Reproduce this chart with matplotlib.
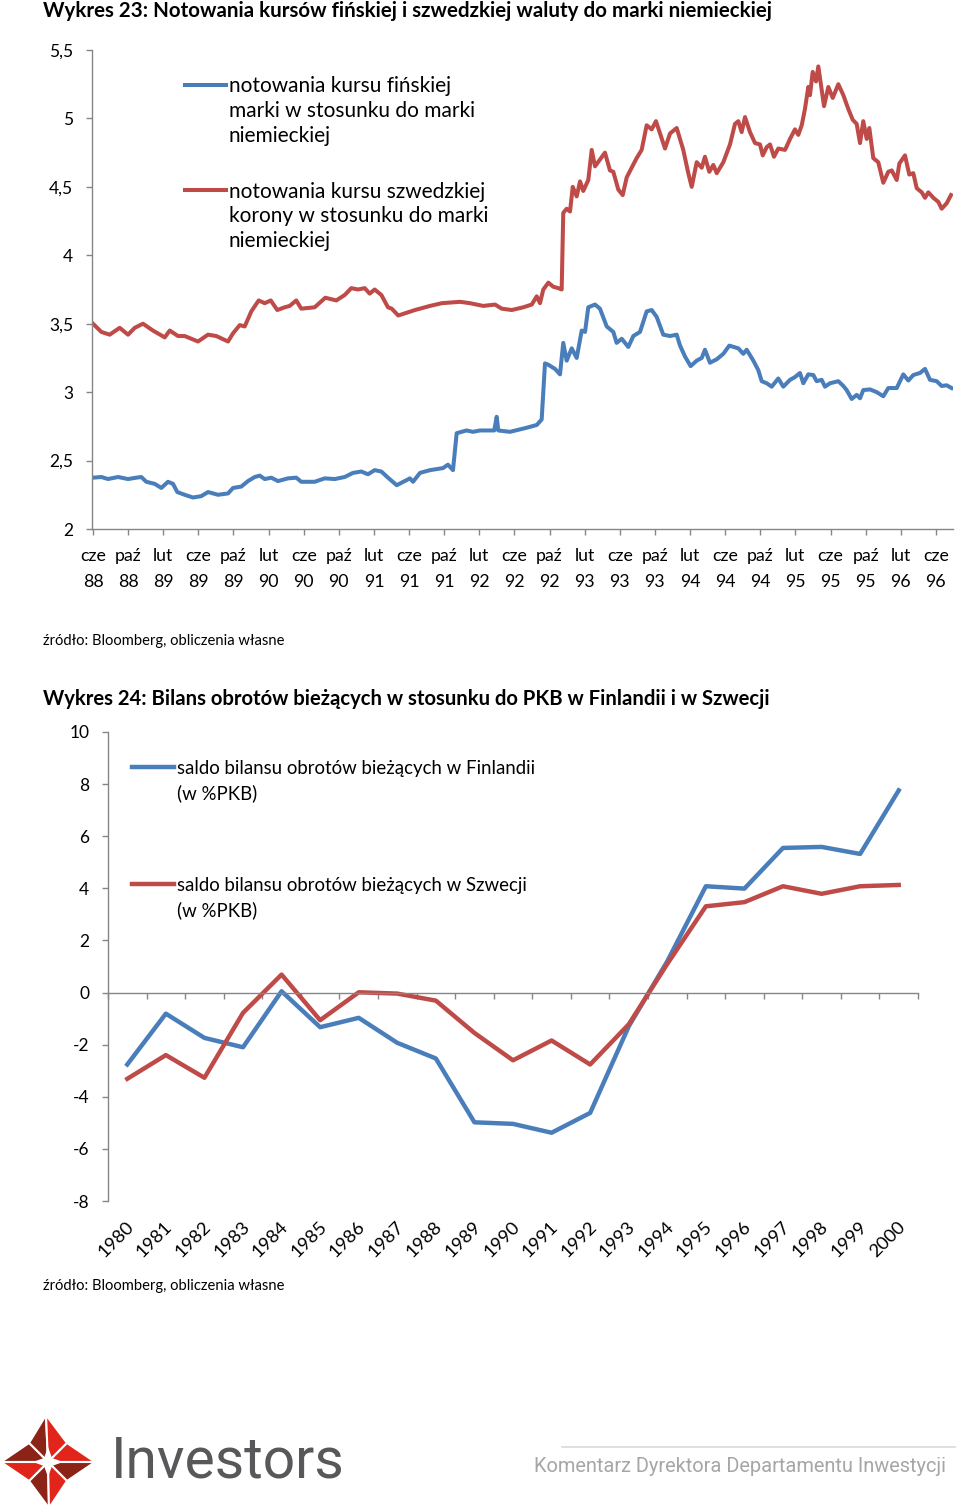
import matplotlib
matplotlib.use('Agg')
import matplotlib.pyplot as plt
from matplotlib.lines import Line2D
from matplotlib.patches import Polygon
import matplotlib.transforms as mtransforms

plt.rcParams['font.family'] = ['Lato', 'DejaVu Sans']

# ---------------- Chart 23 data (months since June 1988) ----------------
fi_months = [0.0, 0.95, 1.71, 2.85, 3.99, 4.93, 5.50, 6.07, 7.03, 7.78, 8.54, 9.11, 9.60, 10.44, 11.39,
             12.33, 13.10, 14.24, 15.38, 15.95, 16.89, 17.65, 18.42, 18.99, 19.56, 20.31, 21.07, 22.21,
             23.15, 23.72, 25.25, 26.39, 27.53, 28.67, 29.61, 30.56, 31.32, 32.08, 32.84, 33.60, 34.59,
             36.10, 36.45, 37.24, 38.38, 39.86, 40.43, 41.0, 41.42, 42.54, 43.28, 44.08, 45.70, 45.98, 46.16,
             47.49, 49.40, 50.54, 51.10, 51.48, 51.86, 52.62, 53.19, 53.56, 53.95, 54.52, 55.09, 55.66,
             56.04, 56.41, 57.18, 57.74, 58.51, 59.26, 59.64, 60.22, 60.97, 61.54, 62.30, 63.06, 63.63,
             64.20, 64.95, 65.72, 66.48, 66.86, 67.43, 68.07, 68.76, 69.33, 69.70, 70.27, 71.04, 71.79,
             72.47, 73.50, 74.07, 74.45, 75.21, 75.78, 76.16, 76.73, 77.30, 78.05, 78.62, 79.39, 79.95,
             80.52, 80.90, 81.47, 82.04, 82.42, 82.99, 83.37, 83.94, 84.89, 85.46, 85.84, 86.41, 86.98,
             87.36, 87.73, 88.50, 89.26, 90.01, 90.58, 91.54, 92.29, 92.86, 93.43, 94.19, 94.76, 95.33,
             96.09, 96.66, 97.23, 97.79]
fi_values = [2.375, 2.38, 2.365, 2.38, 2.365, 2.375, 2.38, 2.345, 2.33, 2.30, 2.345, 2.33, 2.27, 2.25, 2.23,
             2.24, 2.27, 2.25, 2.26, 2.30, 2.31, 2.35, 2.38, 2.39, 2.365, 2.375, 2.35, 2.37,
             2.375, 2.345, 2.345, 2.37, 2.365, 2.38, 2.41, 2.42, 2.40, 2.43, 2.42, 2.375, 2.32,
             2.37, 2.345, 2.41, 2.43, 2.445, 2.47, 2.43, 2.70, 2.72, 2.71, 2.72, 2.72, 2.82, 2.72,
             2.71, 2.74, 2.76, 2.80, 3.21, 3.20, 3.17, 3.13, 3.36, 3.23, 3.32, 3.25, 3.45,
             3.44, 3.62, 3.64, 3.61, 3.48, 3.44, 3.36, 3.39, 3.33, 3.41, 3.44, 3.59, 3.60,
             3.55, 3.42, 3.41, 3.42, 3.34, 3.26, 3.19, 3.23, 3.25, 3.31, 3.215, 3.24, 3.28,
             3.34, 3.32, 3.28, 3.31, 3.23, 3.16, 3.08, 3.065, 3.04, 3.10, 3.04, 3.09, 3.11,
             3.14, 3.065, 3.13, 3.125, 3.08, 3.09, 3.04, 3.065, 3.08, 3.045, 3.015, 2.95, 2.98,
             2.955, 3.015, 3.02, 3.00, 2.97, 3.03, 3.03, 3.13, 3.085, 3.125, 3.14, 3.17, 3.09,
             3.08, 3.045, 3.05, 3.03]

se_months = [0.0, 0.95, 1.9, 3.04, 3.99, 4.75, 5.69, 6.83, 8.17, 8.74, 9.68, 10.44, 11.96, 13.10, 14.04,
             15.38, 15.95, 16.71, 17.28, 18.03, 18.87, 19.56, 20.24, 20.99, 21.83, 22.40, 23.15, 23.72,
             25.25, 26.46, 27.71, 28.67, 29.42, 30.18, 30.95, 31.51, 32.08, 32.84, 33.60, 34.02, 34.77,
             35.73, 36.67, 38.38, 39.72, 41.80, 42.94, 44.45, 45.79, 46.55, 47.69, 49.01, 49.97, 50.54,
             50.91, 51.29, 51.86, 52.43, 53.0, 53.38, 53.56, 53.95, 54.33, 54.64, 55.09, 55.47, 55.84,
             56.41, 56.80, 57.18, 57.74, 58.31, 58.88, 59.26, 59.83, 60.33, 60.79, 61.36, 61.92, 62.49,
             63.06, 63.63, 64.12, 64.58, 65.15, 65.72, 66.48, 67.23, 67.80, 68.19, 68.76, 69.33, 69.70,
             70.19, 70.65, 71.04, 71.79, 72.55, 73.12, 73.50, 73.88, 74.26, 74.83, 75.40, 75.97, 76.28,
             76.73, 77.11, 77.56, 78.05, 78.82, 79.39, 79.95, 80.33, 80.72, 81.09, 81.47, 81.66, 81.97,
             82.35, 82.61, 82.88, 83.26, 83.75, 84.25, 84.89, 85.46, 86.02, 86.53, 86.98, 87.36, 87.73,
             88.12, 88.42, 88.87, 89.44, 90.01, 90.58, 90.97, 91.54, 91.84, 92.48, 92.97, 93.43, 93.82,
             94.39, 94.76, 95.14, 95.71, 96.28, 96.66, 97.23, 97.72]
se_values = [3.50, 3.44, 3.42, 3.47, 3.42, 3.47, 3.50, 3.45, 3.40, 3.45, 3.41, 3.41, 3.37, 3.42, 3.41,
             3.37, 3.43, 3.49, 3.48, 3.59, 3.67, 3.65, 3.67, 3.60, 3.62, 3.63, 3.67, 3.61,
             3.62, 3.69, 3.67, 3.71, 3.76, 3.75, 3.76, 3.72, 3.75, 3.71, 3.62, 3.61, 3.56,
             3.58, 3.60, 3.63, 3.65, 3.66, 3.65, 3.63, 3.64, 3.61, 3.60, 3.62, 3.64, 3.70,
             3.65, 3.75, 3.80, 3.77, 3.76, 3.75, 4.31, 4.34, 4.32, 4.50, 4.43, 4.54, 4.47,
             4.55, 4.77, 4.65, 4.70, 4.75, 4.62, 4.61, 4.48, 4.44, 4.57, 4.64, 4.71, 4.77,
             4.95, 4.92, 4.98, 4.89, 4.78, 4.89, 4.93, 4.77, 4.60, 4.50, 4.68, 4.64, 4.72,
             4.61, 4.66, 4.60, 4.68, 4.81, 4.96, 4.98, 4.90, 5.01, 4.90, 4.82, 4.81, 4.73,
             4.79, 4.81, 4.72, 4.78, 4.77, 4.85, 4.92, 4.88, 4.95, 5.07, 5.23, 5.17, 5.34,
             5.27, 5.38, 5.26, 5.09, 5.23, 5.15, 5.25, 5.17, 5.07, 4.99, 4.96, 4.82, 4.98,
             4.85, 4.93, 4.71, 4.68, 4.53, 4.61, 4.62, 4.55, 4.67, 4.73, 4.59, 4.60, 4.49,
             4.46, 4.42, 4.46, 4.42, 4.39, 4.34, 4.38, 4.44]

top_tick_months = [0, 4, 8, 12, 16, 20, 24, 28, 32, 36, 40, 44, 48, 52, 56, 60, 64, 68, 72, 76, 80, 84, 88, 92, 96]
top_tick_labels = ['cze\n88', 'paź\n88', 'lut\n89', 'cze\n89', 'paź\n89', 'lut\n90', 'cze\n90', 'paź\n90',
                   'lut\n91', 'cze\n91', 'paź\n91', 'lut\n92', 'cze\n92', 'paź\n92', 'lut\n93', 'cze\n93',
                   'paź\n93', 'lut\n94', 'cze\n94', 'paź\n94', 'lut\n95', 'cze\n95', 'paź\n95', 'lut\n96',
                   'cze\n96']
top_yticks = [2, 2.5, 3, 3.5, 4, 4.5, 5, 5.5]
top_ytick_labels = ['2', '2,5', '3', '3,5', '4', '4,5', '5', '5,5']
top_legend = ['notowania kursu fińskiej\nmarki w stosunku do marki\nniemieckiej',
              'notowania kursu szwedzkiej\nkorony w stosunku do marki\nniemieckiej']

# ---------------- Chart 24 data ----------------
years = ['1980', '1981', '1982', '1983', '1984', '1985', '1986', '1987', '1988', '1989', '1990',
         '1991', '1992', '1993', '1994', '1995', '1996', '1997', '1998', '1999', '2000']
finland_ca = [-2.76, -0.81, -1.74, -2.10, 0.05, -1.33, -0.97, -1.93, -2.53, -4.98, -5.04,
              -5.38, -4.62, -1.30, 1.20, 4.08, 3.99, 5.55, 5.59, 5.32, 7.76]
sweden_ca = [-3.31, -2.40, -3.27, -0.78, 0.69, -1.06, 0.01, -0.04, -0.31, -1.55, -2.60,
             -1.84, -2.76, -1.22, 1.10, 3.31, 3.47, 4.08, 3.79, 4.08, 4.13]
bottom_yticks = [-8, -6, -4, -2, 0, 2, 4, 6, 8, 10]
bottom_legend = ['saldo bilansu obrotów bieżących w Finlandii\n(w %PKB)',
                 'saldo bilansu obrotów bieżących w Szwecji\n(w %PKB)']

title23 = 'Wykres 23: Notowania kursów fińskiej i szwedzkiej waluty do marki niemieckiej'
title24 = 'Wykres 24: Bilans obrotów bieżących w stosunku do PKB w Finlandii i w Szwecji'
source = 'źródło: Bloomberg, obliczenia własne'

BLUE = '#4A7EBB'
RED = '#BE4B48'
AXC = '#868686'
W, H = 960, 1509


def fx(px):
    return px / W


def fy(py):
    return 1 - py / H


fig = plt.figure(figsize=(W / 100, H / 100), dpi=100)
fig.patch.set_facecolor('white')

# ---------------- Chart 23 ----------------
ax1 = fig.add_axes([fx(92), fy(529), (953 - 92) / W, (529 - 50) / H])
ax1.plot(fi_months, fi_values, color=BLUE, lw=2.9, solid_joinstyle='round')
ax1.plot(se_months, se_values, color=RED, lw=2.9, solid_joinstyle='round')
ax1.set_xlim(-0.114, 97.95)
ax1.set_ylim(2, 5.5)
for s in ['top', 'right']:
    ax1.spines[s].set_visible(False)
for s in ['left', 'bottom']:
    ax1.spines[s].set_color(AXC)
    ax1.spines[s].set_linewidth(1.0)
ax1.set_yticks(top_yticks)
ax1.set_yticklabels(top_ytick_labels)
ax1.set_xticks(top_tick_months)
ax1.set_xticklabels(top_tick_labels, linespacing=1.72)
ax1.tick_params(axis='y', direction='out', length=4.5, width=1, color=AXC, pad=9, labelsize=12.5)
ax1.tick_params(axis='x', direction='out', length=4.5, width=1, color=AXC, pad=9.5, labelsize=12.8)

fig.text(fx(43), fy(11), title23, fontsize=14.75, fontweight='bold', ha='left', va='center')

for lab, col, ly in zip(top_legend, [BLUE, RED], [85, 190]):
    fig.add_artist(Line2D([fx(185), fx(226)], [fy(ly), fy(ly)], color=col, lw=2.9))
    fig.text(fx(229), fy(ly - 8.5), lab, fontsize=15.0, ha='left', va='top', linespacing=1.3)

fig.text(fx(43), fy(641), source, fontsize=10.6, ha='left', va='center')

# ---------------- Chart 24 ----------------
ax2 = fig.add_axes([fx(108), fy(1201), (918 - 108) / W, (1201 - 732) / H])
xs = list(range(len(years)))
ax2.plot(xs, finland_ca, color=BLUE, lw=3.2, solid_joinstyle='round')
ax2.plot(xs, sweden_ca, color=RED, lw=3.2, solid_joinstyle='round')
ax2.set_xlim(-0.5, len(years) - 0.5)
ax2.set_ylim(-8, 10)
for s in ['top', 'right']:
    ax2.spines[s].set_visible(False)
ax2.spines['left'].set_color(AXC)
ax2.spines['bottom'].set_color(AXC)
ax2.spines['left'].set_linewidth(1.0)
ax2.spines['bottom'].set_linewidth(1.0)
ax2.spines['bottom'].set_position(('data', 0))
ax2.set_yticks(bottom_yticks)
ax2.set_yticklabels([str(v) for v in bottom_yticks])
ax2.set_xticks([i - 0.5 for i in range(len(years) + 1)])
ax2.set_xticklabels([])
ax2.tick_params(axis='y', direction='out', length=4.5, width=1, color=AXC, pad=9, labelsize=12.5)
ax2.tick_params(axis='x', direction='out', length=4.5, width=1, color=AXC)
trans = mtransforms.blended_transform_factory(ax2.transData, ax2.transAxes)
off = mtransforms.offset_copy(trans, fig=fig, x=4, y=-23, units='dots')
for i, lab in enumerate(years):
    ax2.text(i, 0, lab, transform=off, rotation=45, rotation_mode='anchor',
             ha='right', va='center', fontsize=13.3)

fig.text(fx(43), fy(699), title24, fontsize=14.6, fontweight='bold', ha='left', va='center')
for lab, col, ly in zip(bottom_legend, [BLUE, RED], [767, 884]):
    fig.add_artist(Line2D([fx(132), fx(174)], [fy(ly), fy(ly)], color=col, lw=3.2))
    fig.text(fx(177), fy(ly - 7.5), lab, fontsize=13.4, ha='left', va='top', linespacing=1.55)

fig.text(fx(43), fy(1286), source, fontsize=10.6, ha='left', va='center')

# ---------------- Footer ----------------
cx, cy = 48, 1462
RED_L = '#E1251B'
BROWN = '#8C2317'
tips = {'top': (46, 1415), 'right': (95, 1462), 'bottom': (49, 1508), 'left': (1, 1462)}
conc = {'tr': (67, 1443), 'br': (67, 1481), 'bl': (29, 1481), 'tl': (29, 1443)}
arms = [
    (tips['top'], conc['tl'], conc['tr'], BROWN, RED_L),
    (tips['right'], conc['tr'], conc['br'], RED_L, BROWN),
    (tips['bottom'], conc['bl'], conc['br'], BROWN, RED_L),
    (tips['left'], conc['tl'], conc['bl'], BROWN, RED_L),
]
for t, a, b, ca, cb in arms:
    fig.add_artist(Polygon([(fx(p), fy(q)) for p, q in [t, a, (cx, cy)]], closed=True,
                           facecolor=ca, edgecolor='white', lw=1.5, transform=fig.transFigure))
    fig.add_artist(Polygon([(fx(p), fy(q)) for p, q in [t, (cx, cy), b]], closed=True,
                           facecolor=cb, edgecolor='white', lw=1.5, transform=fig.transFigure))
inner = [(cx, cy - 15), (cx + 4, cy - 4), (cx + 15, cy), (cx + 4, cy + 4),
         (cx, cy + 15), (cx - 4, cy + 4), (cx - 15, cy), (cx - 4, cy - 4)]
fig.add_artist(Polygon([(fx(p), fy(q)) for p, q in inner], closed=True, facecolor='white',
                       edgecolor='none', transform=fig.transFigure))

fig.text(fx(111), fy(1462), 'Investors', fontsize=41, color='#58585A', ha='left', va='center',
         family=['Roboto', 'DejaVu Sans'])
fig.add_artist(Line2D([fx(562), fx(955)], [fy(1447), fy(1447)], color='#D9D9D9', lw=1.2))
fig.text(fx(534), fy(1467), 'Komentarz Dyrektora Departamentu Inwestycji', fontsize=14.4,
         color='#A6A6A6', ha='left', va='center', family=['Roboto', 'DejaVu Sans'])

fig.savefig('out.png', dpi=100, facecolor='white')
